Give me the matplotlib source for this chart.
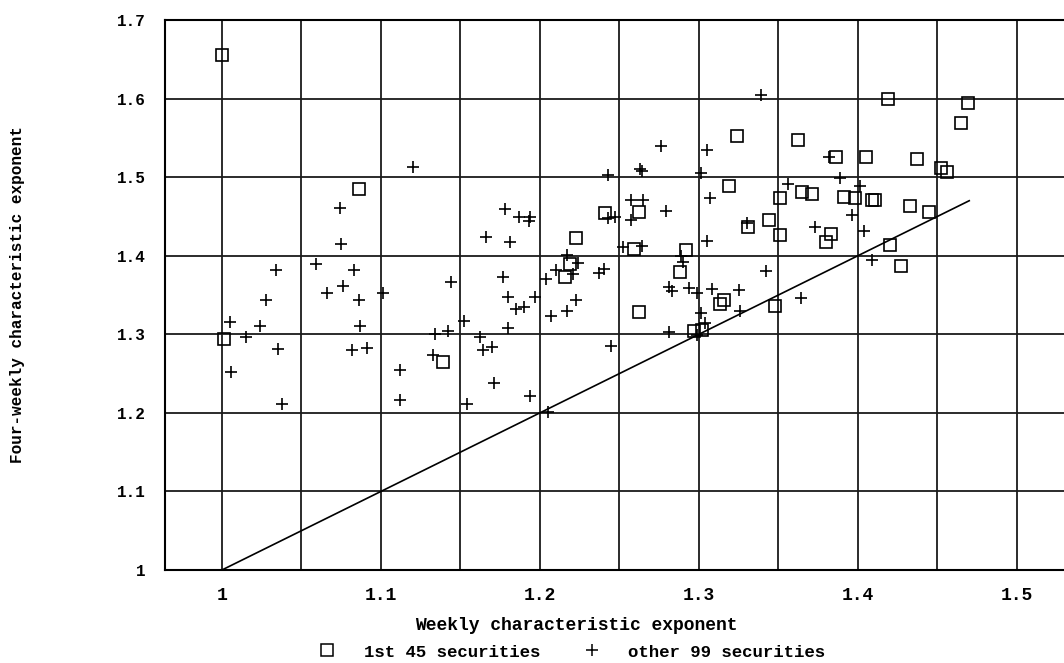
# Gráfico de dispersão: expoente característico semanal x quadrissemanal
import numpy as np
import matplotlib.pyplot as plt
from matplotlib.lines import Line2D

# 1. Dados lidos do gráfico
# primeiros 45 títulos (quadrados)
quad_x = [1.000, 1.001, 1.086, 1.139, 1.223, 1.241, 1.262, 1.259, 1.219, 1.216,
          1.262, 1.292, 1.288, 1.297, 1.302, 1.324, 1.362, 1.386, 1.319, 1.351,
          1.365, 1.371, 1.391, 1.398, 1.409, 1.411, 1.344, 1.331, 1.351, 1.383,
          1.380, 1.313, 1.316, 1.348, 1.419, 1.469, 1.465, 1.405, 1.437, 1.452,
          1.456, 1.433, 1.445, 1.420, 1.427]
quad_y = [1.655, 1.294, 1.485, 1.265, 1.422, 1.454, 1.455, 1.408, 1.390, 1.373,
          1.328, 1.407, 1.379, 1.304, 1.306, 1.552, 1.547, 1.525, 1.489, 1.473,
          1.481, 1.479, 1.475, 1.474, 1.471, 1.471, 1.446, 1.436, 1.426, 1.428,
          1.418, 1.338, 1.343, 1.336, 1.600, 1.594, 1.569, 1.525, 1.523, 1.512,
          1.506, 1.463, 1.455, 1.414, 1.387]

# outros 99 títulos (cruzes)
cruz_x = [1.074, 1.075, 1.059, 1.083, 1.034, 1.076, 1.066, 1.086, 1.028, 1.005,
          1.024, 1.087, 1.015, 1.035, 1.082, 1.091, 1.006, 1.038, 1.120, 1.178,
          1.187, 1.194, 1.193, 1.166, 1.181, 1.144, 1.101, 1.177, 1.180, 1.197,
          1.185, 1.190, 1.152, 1.180, 1.142, 1.134, 1.162, 1.164, 1.170, 1.133,
          1.112, 1.171, 1.112, 1.154, 1.194, 1.276, 1.263, 1.264, 1.243, 1.301,
          1.257, 1.265, 1.279, 1.243, 1.247, 1.257, 1.252, 1.264, 1.289, 1.217,
          1.224, 1.290, 1.210, 1.221, 1.240, 1.237, 1.204, 1.281, 1.283, 1.294,
          1.299, 1.223, 1.217, 1.207, 1.301, 1.281, 1.245, 1.205, 1.339, 1.382,
          1.305, 1.389, 1.356, 1.307, 1.396, 1.330, 1.373, 1.305, 1.342, 1.308,
          1.325, 1.364, 1.326, 1.304, 1.299, 1.401, 1.404, 1.409]
cruz_y = [1.461, 1.415, 1.389, 1.382, 1.382, 1.361, 1.352, 1.343, 1.344, 1.316,
          1.311, 1.310, 1.296, 1.281, 1.280, 1.282, 1.252, 1.211, 1.513, 1.459,
          1.449, 1.449, 1.444, 1.424, 1.418, 1.367, 1.353, 1.373, 1.348, 1.348,
          1.332, 1.335, 1.317, 1.308, 1.304, 1.300, 1.296, 1.280, 1.284, 1.273,
          1.255, 1.238, 1.216, 1.211, 1.222, 1.540, 1.510, 1.508, 1.503, 1.505,
          1.471, 1.471, 1.457, 1.448, 1.449, 1.445, 1.411, 1.412, 1.400, 1.401,
          1.391, 1.392, 1.382, 1.377, 1.383, 1.378, 1.370, 1.360, 1.355, 1.359,
          1.353, 1.344, 1.330, 1.323, 1.327, 1.303, 1.285, 1.201, 1.604, 1.525,
          1.534, 1.499, 1.491, 1.474, 1.452, 1.441, 1.437, 1.419, 1.381, 1.358,
          1.356, 1.346, 1.330, 1.314, 1.299, 1.489, 1.432, 1.394]

# reta de 45 graus
reta_x = [1.0, 1.47]
reta_y = [1.0, 1.47]

# eixos
x_ticks = [1.0, 1.1, 1.2, 1.3, 1.4, 1.5]
x_labels = ['1', '1.1', '1.2', '1.3', '1.4', '1.5']
x_grade = [1.0, 1.05, 1.1, 1.15, 1.2, 1.25, 1.3, 1.35, 1.4, 1.45, 1.5]
y_ticks = [1.0, 1.1, 1.2, 1.3, 1.4, 1.5, 1.6, 1.7]
y_labels = ['1', '1.1', '1.2', '1.3', '1.4', '1.5', '1.6', '1.7']

fonte = {'family': 'Liberation Mono', 'weight': 'bold', 'size': 13}
fonte_y = {'family': 'Liberation Mono', 'weight': 'bold', 'size': 11.5}
fonte_leg = {'family': 'Liberation Mono', 'weight': 'bold', 'size': 12.5}

# 2. Figura
fig = plt.figure(figsize=(10.64, 6.63), dpi=100)
ax = fig.add_axes([165 / 1064, 93 / 663, 899 / 1064, 550 / 663])

# grade
for gx in x_grade:
    ax.axvline(gx, color='#1a1a1a', lw=1.3, zorder=1)
for gy in y_ticks:
    ax.axhline(gy, color='#1a1a1a', lw=1.3, zorder=1)

ax.plot(reta_x, reta_y, color='black', lw=1.2, zorder=2)
ax.plot(quad_x, quad_y, ls='none', marker='s', ms=8.5, mfc='none',
        mec='black', mew=1.2, zorder=3)
ax.plot(cruz_x, cruz_y, ls='none', marker='+', ms=9, mec='black',
        mew=1.2, zorder=3)

ax.set_xlim(0.9642, 1.5296)
ax.set_ylim(1.0, 1.7)
ax.set_xticks(x_ticks)
ax.set_xticklabels(x_labels, fontdict=fonte)
ax.set_yticks(y_ticks)
ax.set_yticklabels(y_labels, fontdict=fonte_y)
ax.tick_params(axis='x', length=0, pad=12)
ax.tick_params(axis='y', length=0, pad=14)

for lado in ['left', 'bottom', 'top']:
    ax.spines[lado].set_linewidth(1.5)
ax.spines['right'].set_visible(False)

ax.set_xlabel('Weekly characteristic exponent', fontdict=fonte)
ax.xaxis.set_label_coords((576 - 165) / 899, -0.085)
ax.set_ylabel('Four-weekly characteristic exponent', fontdict=fonte_y)
ax.yaxis.set_label_coords(-(165 - 18) / 899, 0.5)
ax.yaxis.label.set_va('center')

# 3. Legenda abaixo do título do eixo x
itens = [Line2D([], [], ls='none', marker='s', ms=8, mfc='none', mec='black', mew=1.1),
         Line2D([], [], ls='none', marker='+', ms=9, mec='black', mew=1.1)]
fig.legend(itens, ['1st 45 securities', 'other 99 securities'], ncol=2,
           loc='center', bbox_to_anchor=(572 / 1064, 1 - 652 / 663),
           frameon=False, prop=fonte_leg, handlelength=1.0, handletextpad=1.6,
           columnspacing=2.5, borderpad=0.2)

fig.savefig('out.png', dpi=100)
